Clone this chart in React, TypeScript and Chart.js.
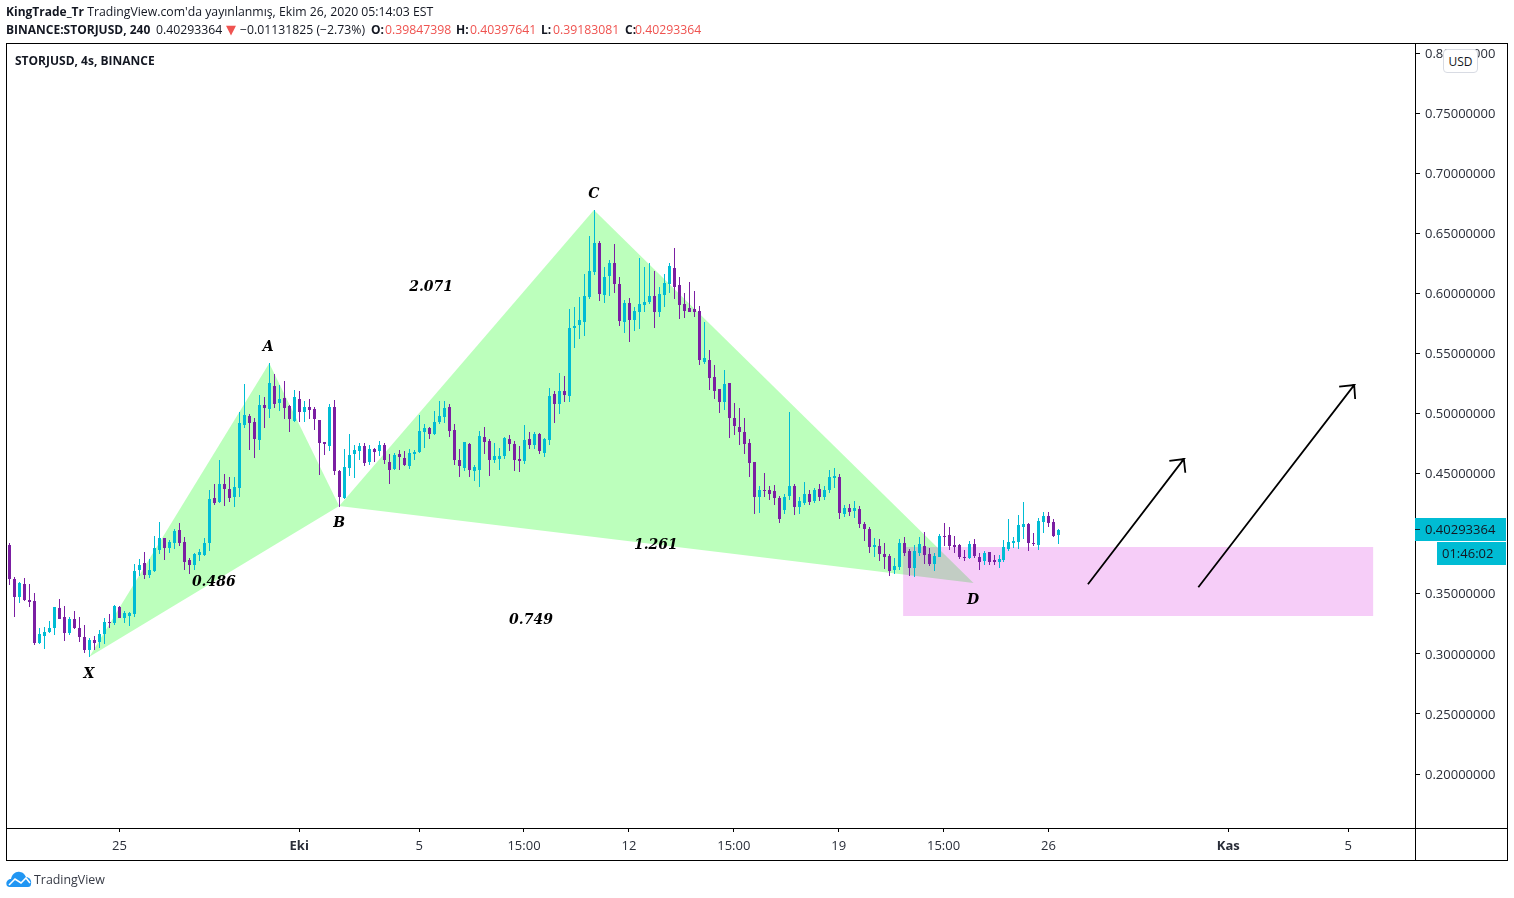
import React, { useEffect, useRef } from "react";
import { Chart, registerables } from "chart.js";

Chart.register(...registerables);

const highs = [
.3926,.3638,.3599,.3632,.3582,.3505,.3213,.3222,.3274,.3391,
.3455,.3399,.3305,.3358,.3308,.3241,.3130,.3150,.3200,.3297,
.3333,.3405,.3399,.3358,.3349,.3749,.3790,.3848,.3790,.3981,
.4098,.3965,.3948,.4040,.4090,.3976,.3796,.3837,.3873,.3965,
.4364,.4414,.4614,.4497,.4472,.4472,.5013,.5246,.4996,.4963,
.5154,.5138,.5418,.5329,.5238,.5271,.5072,.5197,.5188,.5105,
.5122,.5055,.4947,.4764,.5080,.5113,.4531,.4706,.4831,.4739,
.4756,.4756,.4739,.4714,.4772,.4756,.4664,.4673,.4697,.4689,
.4706,.4697,.4989,.4914,.4889,.5022,.5105,.5105,.5080,.4914,
.4706,.4764,.4756,.4573,.4856,.4889,.4789,.4756,.4714,.4806,
.4822,.4772,.4731,.4905,.4847,.4847,.4839,.4797,.5213,.5188,
.5338,.5313,.5870,.5887,.5970,.6161,.6477,.6694,.6436,.6220,
.6278,.6411,.6136,.5945,.5962,.5887,.6294,.6220,.6253,.6186,
.6053,.6161,.6253,.6378,.6136,.6003,.6095,.6020,.5895,.5762,
.5529,.5404,.5205,.5363,.5255,.5088,.5047,.4963,.4789,.4597,
.4398,.4506,.4398,.4406,.4314,.4331,.5013,.4414,.4306,.4431,
.4364,.4381,.4414,.4398,.4531,.4547,.4497,.4240,.4248,.4273,
.4231,.4098,.4056,.3965,.3957,.3923,.3832,.3799,.3957,.3973,
.3873,.3907,.3973,.4015,.3882,.3840,.3998,.4090,.4056,.3982,
.3915,.3865,.3940,.3957,.3840,.3857,.3848,.3824,.3824,.3948,
.4123,.3973,.4156,.4264,.4090,.4007,.4131,.4181,.4181,.4123,.4040];

const bodyTops = [
.3907,.3624,.3590,.3582,.3449,.3441,.3166,.3183,.3216,.3391,
.3383,.3310,.3291,.3291,.3216,.3141,.3116,.3116,.3166,.3266,
.3266,.3399,.3391,.3341,.3341,.3690,.3740,.3757,.3699,.3882,
.3965,.3965,.3932,.4023,.4031,.3932,.3782,.3832,.3848,.3923,
.4289,.4298,.4414,.4414,.4372,.4389,.4922,.4988,.4980,.4930,
.5071,.5071,.5254,.5229,.5121,.5130,.5063,.5138,.5122,.5055,
.5055,.5039,.4947,.4764,.5055,.5055,.4523,.4556,.4656,.4697,
.4731,.4731,.4706,.4706,.4739,.4739,.4598,.4656,.4664,.4631,
.4673,.4681,.4856,.4881,.4881,.4930,.4980,.5047,.5055,.4864,
.4614,.4764,.4747,.4556,.4814,.4806,.4772,.4648,.4648,.4797,
.4789,.4747,.4623,.4781,.4789,.4831,.4831,.4789,.5146,.5163,
.5188,.5188,.5712,.5729,.5779,.5978,.6186,.6419,.6419,.6136,
.6253,.6253,.6078,.5920,.5920,.5854,.5912,.5928,.5978,.5978,
.5995,.6087,.6228,.6211,.6070,.5912,.5879,.5870,.5854,.5463,
.5446,.5305,.5205,.5246,.5255,.4963,.4889,.4847,.4755,.4597,
.4365,.4365,.4365,.4356,.4298,.4306,.4398,.4398,.4273,.4331,
.4331,.4364,.4373,.4364,.4472,.4481,.4472,.4215,.4215,.4215,
.4206,.4081,.4040,.3907,.3898,.3832,.3815,.3732,.3923,.3923,
.3857,.3857,.3915,.3898,.3832,.3815,.3982,.3982,.3990,.3907,
.3907,.3807,.3915,.3915,.3807,.3840,.3848,.3782,.3790,.3890,
.3932,.3940,.4073,.4081,.4081,.3923,.4106,.4148,.4148,.4098,.4029];

const bodyBottoms = [
.3627,.3477,.3477,.3449,.3432,.3094,.3094,.3150,.3183,.3211,
.3294,.3177,.3174,.3211,.3144,.3028,.3028,.3094,.3102,.3166,
.3258,.3255,.3302,.3299,.3316,.3333,.3699,.3657,.3657,.3690,
.3865,.3882,.3882,.3923,.3923,.3765,.3740,.3740,.3823,.3823,
.3923,.4256,.4264,.4372,.4298,.4306,.4381,.4905,.4922,.4788,
.4780,.5046,.5038,.5080,.5088,.5047,.4955,.4939,.5014,.5014,
.5030,.4955,.4756,.4747,.4731,.4523,.4306,.4298,.4548,.4664,
.4689,.4589,.4598,.4681,.4689,.4614,.4531,.4539,.4639,.4573,
.4564,.4664,.4681,.4847,.4831,.4831,.4930,.4972,.4856,.4614,
.4564,.4548,.4531,.4523,.4531,.4764,.4614,.4614,.4623,.4648,
.4747,.4614,.4606,.4606,.4739,.4739,.4689,.4673,.4780,.5080,
.5080,.5155,.5146,.5712,.5737,.5762,.5970,.6178,.5995,.5987,
.6145,.6078,.5770,.5762,.5779,.5779,.5845,.5904,.5928,.5845,
.5845,.5987,.6078,.6053,.5904,.5854,.5845,.5845,.5446,.5429,
.5296,.5188,.5097,.5097,.4963,.4897,.4847,.4747,.4589,.4306,
.4306,.4356,.4331,.4298,.4123,.4198,.4314,.4223,.4223,.4256,
.4264,.4273,.4306,.4306,.4364,.4464,.4173,.4165,.4181,.4190,
.4081,.4040,.3890,.3890,.3832,.3807,.3690,.3699,.3724,.3840,
.3715,.3715,.3840,.3824,.3749,.3749,.3807,.3973,.3898,.3890,
.3807,.3799,.3799,.3815,.3765,.3774,.3765,.3765,.3765,.3782,
.3873,.3923,.3932,.4056,.3923,.3915,.3907,.4098,.4090,.3982,.3985];

const lows = [
.3574,.3310,.3427,.3441,.3394,.3077,.3083,.3044,.3172,.3158,
.3288,.3111,.3161,.3205,.3102,.3005,.2972,.3033,.3052,.3083,
.3211,.3241,.3297,.3260,.3233,.3310,.3649,.3627,.3629,.3682,
.3834,.3782,.3840,.3873,.3898,.3699,.3665,.3699,.3773,.3815,
.3857,.4239,.4253,.4231,.4264,.4223,.4306,.4880,.4697,.4630,
.4697,.4880,.4963,.5046,.5021,.4955,.4847,.4930,.4930,.4930,
.4955,.4864,.4489,.4656,.4689,.4489,.4223,.4290,.4481,.4465,
.4614,.4564,.4573,.4598,.4648,.4581,.4415,.4531,.4531,.4564,
.4539,.4614,.4673,.4714,.4789,.4822,.4914,.4922,.4806,.4573,
.4473,.4523,.4473,.4440,.4390,.4664,.4481,.4589,.4531,.4623,
.4689,.4523,.4514,.4581,.4706,.4706,.4664,.4639,.4739,.4922,
.4997,.5097,.5097,.5546,.5621,.5646,.5953,.6153,.5937,.5920,
.5978,.6003,.5729,.5671,.5596,.5687,.5704,.5845,.5912,.5712,
.5804,.5887,.6003,.5953,.5787,.5795,.5845,.5804,.5404,.5413,
.5196,.5122,.5005,.5030,.4797,.4822,.4739,.4664,.4473,.4165,
.4173,.4306,.4281,.4240,.4090,.4165,.4281,.4156,.4165,.4240,
.4240,.4256,.4273,.4281,.4339,.4381,.4123,.4140,.4148,.4131,
.4048,.3940,.3840,.3807,.3774,.3707,.3649,.3665,.3699,.3815,
.3649,.3641,.3815,.3749,.3732,.3690,.3807,.3898,.3865,.3840,
.3790,.3774,.3790,.3799,.3699,.3740,.3740,.3740,.3715,.3765,
.3857,.3882,.3873,.3957,.3857,.3898,.3865,.4007,.4056,.3973,.3918];

const directions =
  "DDUDDDUUUU" + "DDUDDDUDUU" + "DUDUUUUDUU" + "UDUUDDDUUU" + "UDUDDUUUDD" +
  "UDUDUDDUDU" + "DDDDUDDUUU" + "UDUDUDDUDD" + "UUUUDUUUDD" + "DUDUUDDUUU" +
  "DDDUDUDUUD" + "UDUUUUUUDU" + "UDDUDUUUUD" + "UUUDDDDDDU" + "DDDUDDDDDD" +
  "UDDDDUUDUU" + "DUDUUUDUDU" + "DDDUDDDUUD" + "DUUDDUUDDD" + "DDUDDUDDUU" +
  "UUUUDDUUDDU";

const xTickIndices = [22, 58, 82, 103, 124, 145, 166, 187, 208, 244, 268];
const xTickLabels = ["25", "Eki", "5", "15:00", "12", "15:00", "19", "15:00", "26", "Kas", "5"];
const xTickBold = ["Eki", "Kas"];
const priceTicks = [0.2, 0.25, 0.3, 0.35, 0.4, 0.45, 0.5, 0.55, 0.6, 0.65, 0.7, 0.75, 0.8];

const xabIndex = [16, 52, 66, 16];
const xabPrice = [0.2976, 0.5418, 0.423, 0.2976];
const bcdIndex = [66, 117, 193, 66];
const bcdPrice = [0.423, 0.6694, 0.359, 0.423];
const zoneIndex = [178.9, 273, 273, 178.9, 178.9];
const zonePrice = [0.3889, 0.3889, 0.3315, 0.3315, 0.3889];
const arrowOneIndex = [215.9, 235.1, 232.2, 235.1, 235.4];
const arrowOnePrice = [0.3579, 0.4621, 0.4605, 0.4621, 0.4507];
const arrowTwoIndex = [238.0, 269.2, 266.2, 269.2, 269.4];
const arrowTwoPrice = [0.3554, 0.5237, 0.5223, 0.5237, 0.5121];

const labelTexts = ["X", "A", "B", "C", "D", "2.071", "0.486", "1.261", "0.749"];
const labelIndex = [15.9, 51.8, 66, 117, 192.9, 84.4, 40.9, 129.4, 104.4];
const labelPrice = [0.2833, 0.5554, 0.4089, 0.6827, 0.3448, 0.6053, 0.3598, 0.3906, 0.3282];

const lastPrice = 0.40293364;
const lastPriceText = "0.40293364";
const countdownText = "01:46:02";

const UP = "#00bcd4";
const DOWN = "#7b1fa2";
const UI_FONT = '"Open Sans", sans-serif';
const pairs = (xs: number[], ys: number[]) => xs.map((x, i) => ({ x, y: ys[i] }));

const snapBars = {
  id: "snapBars",
  beforeDatasetsDraw(chart: any) {
    chart.data.datasets.forEach((ds: any, di: number) => {
      if (ds.type !== "bar") return;
      chart.getDatasetMeta(di).data.forEach((el: any) => {
        el.x = Math.floor(el.x + 0.49) + 0.5;
        el.width = ds.maxBarThickness;
        const y = Math.round(el.y);
        let b = Math.round(el.base);
        if (b === y) b = y + 1;
        el.y = y;
        el.base = b;
      });
    });
  },
};

const patternLabels = {
  id: "patternLabels",
  afterDatasetsDraw(chart: any) {
    const { ctx, scales } = chart;
    ctx.save();
    ctx.fillStyle = "#000";
    ctx.font = 'italic bold 14px "DejaVu Serif"';
    ctx.textAlign = "center";
    ctx.textBaseline = "middle";
    labelTexts.forEach((t, i) => {
      ctx.fillText(t, scales.x.getPixelForValue(labelIndex[i]), scales.y.getPixelForValue(labelPrice[i]));
    });
    ctx.restore();
  },
};

const framePlugin = {
  id: "framePlugin",
  afterDraw(chart: any) {
    const { ctx, scales } = chart;
    ctx.save();
    ctx.fillStyle = "#000";
    ctx.fillRect(6, 43, 1502, 1);
    ctx.fillRect(6, 860, 1502, 1);
    ctx.fillRect(6, 43, 1, 818);
    ctx.fillRect(1507, 43, 1, 818);
    ctx.fillRect(1415, 43, 1, 818);
    ctx.fillRect(6, 828, 1502, 1);
    const py = Math.round(scales.y.getPixelForValue(lastPrice));
    ctx.fillStyle = UP;
    ctx.fillRect(1415, py - 12, 91, 23);
    ctx.fillRect(1437, py + 12, 69, 23);
    ctx.fillStyle = "#131722";
    ctx.fillRect(1415, py - 1, 5, 1);
    ctx.font = `13px ${UI_FONT}`;
    ctx.textBaseline = "middle";
    ctx.fillText(lastPriceText, 1425, py);
    ctx.fillText(countdownText, 1442, py + 24);
    ctx.restore();
  },
};

const abs = (left: number, top: number, extra: React.CSSProperties = {}): React.CSSProperties => ({
  position: "absolute",
  left,
  top,
  whiteSpace: "nowrap",
  lineHeight: "16px",
  ...extra,
});

export default function App() {
  const ref = useRef<HTMLCanvasElement>(null);
  useEffect(() => {
    const polygon = (xs: number[], ys: number[], color: string, order: number) => ({
      type: "line",
      data: pairs(xs, ys),
      fill: "shape",
      backgroundColor: color,
      borderWidth: 0,
      pointRadius: 0,
      tension: 0,
      order,
    });
    const arrow = (xs: number[], ys: number[]) => ({
      type: "line",
      data: pairs(xs, ys),
      fill: false,
      borderColor: "#000",
      borderWidth: 1.8,
      pointRadius: 0,
      tension: 0,
      order: 0,
    });
    const colors = highs.map((_, i) => (directions[i] === "U" ? UP : DOWN));
    const chart = new Chart(ref.current as HTMLCanvasElement, {
      data: {
        datasets: [
          polygon(xabIndex, xabPrice, "#bcffbc", 5),
          polygon(bcdIndex, bcdPrice, "#bcffbc", 5),
          polygon(zoneIndex, zonePrice, "rgba(215,32,224,0.224)", 4),
          {
            type: "bar",
            data: highs.map((h, i) => ({ x: i, y: [lows[i], h] })),
            backgroundColor: colors,
            grouped: false,
            maxBarThickness: 1,
            borderWidth: 0,
            order: 3,
          },
          {
            type: "bar",
            data: bodyTops.map((t, i) => ({ x: i, y: [bodyBottoms[i], t] })),
            backgroundColor: colors,
            grouped: false,
            maxBarThickness: 3,
            borderWidth: 0,
            order: 2,
          },
          arrow(arrowOneIndex, arrowOnePrice),
          arrow(arrowTwoIndex, arrowTwoPrice),
        ],
      } as any,
      options: {
        responsive: false,
        animation: false,
        events: [],
        layout: { padding: { left: 7, right: 7, top: 44, bottom: 38 } },
        plugins: { legend: { display: false }, tooltip: { enabled: false }, title: { display: false } },
        scales: {
          x: {
            type: "linear",
            offset: false,
            min: -0.5005,
            max: 281.38,
            afterFit: (s: any) => { s.height = 32; },
            afterBuildTicks: (s: any) => { s.ticks = xTickIndices.map((value) => ({ value })); },
            border: { display: false },
            grid: { offset: false, drawOnChartArea: false, color: "#000", tickColor: "#000", tickLength: 4, tickWidth: 1 },
            ticks: {
              autoSkip: false,
              maxRotation: 0,
              padding: 6,
              color: "#2a2e39",
              font: (c: any) => ({
                family: UI_FONT,
                size: 13,
                weight: xTickBold.includes(xTickLabels[xTickIndices.indexOf(c.tick?.value)]) ? "bold" : "normal",
              }),
              callback: (v: any) => xTickLabels[xTickIndices.indexOf(v)],
            },
          },
          y: {
            type: "linear",
            position: "right",
            min: 0.15508,
            max: 0.80749,
            afterFit: (s: any) => { s.width = 92; },
            afterBuildTicks: (s: any) => { s.ticks = priceTicks.map((value) => ({ value })); },
            border: { display: false },
            grid: { drawOnChartArea: false, color: "#000", tickColor: "#000", tickLength: 5, tickWidth: 1 },
            ticks: {
              autoSkip: false,
              padding: 5,
              labelOffset: 1,
              color: "#2a2e39",
              font: { family: UI_FONT, size: 13 },
              callback: (v: any) => Number(v).toFixed(8),
            },
          },
        },
      } as any,
      plugins: [snapBars, patternLabels, framePlugin],
    } as any);
    return () => chart.destroy();
  }, []);

  const red = "#ef5350";
  const dark = "#131722";
  const base: React.CSSProperties = { fontFamily: UI_FONT, fontSize: 12.25, color: dark };
  const boldStyle = (left: number, top: number) => abs(left, top, { fontSize: 12, fontWeight: "bold" });
  return (
    <div style={{ position: "fixed", left: 0, top: 0, width: 1514, height: 898, background: "#fff", overflow: "hidden", ...base }}>
      <canvas ref={ref} width={1514} height={898} style={{ position: "absolute", left: 0, top: 0, display: "block" }} />
      <div style={abs(6, 4)}><b style={{ fontSize: 12 }}>KingTrade_Tr</b> TradingView.com'da yayınlanmış, Ekim 26, 2020 05:14:03 EST</div>
      <span style={boldStyle(6, 22)}>BINANCE:STORJUSD, 240</span>
      <span style={abs(156, 22)}>0.40293364</span>
      <span style={abs(226, 22, { color: red, fontSize: 13, fontFamily: '"DejaVu Sans"' })}>▼</span>
      <span style={abs(240, 22)}>−0.01131825 (−2.73%)</span>
      <span style={boldStyle(371, 22)}>O:</span>
      <span style={abs(385, 22, { color: red })}>0.39847398</span>
      <span style={boldStyle(456, 22)}>H:</span>
      <span style={abs(470, 22, { color: red })}>0.40397641</span>
      <span style={boldStyle(541, 22)}>L:</span>
      <span style={abs(553, 22, { color: red })}>0.39183081</span>
      <span style={boldStyle(625, 22)}>C:</span>
      <span style={abs(635, 22, { color: red })}>0.40293364</span>
      <span style={boldStyle(15, 53)}>STORJUSD, 4s, BINANCE</span>
      <div style={{ position: "absolute", left: 1443, top: 49, width: 35, height: 24, boxSizing: "border-box", background: "#fff", border: "1px solid #d8dbe3", borderRadius: 4, textAlign: "center", lineHeight: "24px", fontSize: 12 }}>USD</div>
      <svg style={{ position: "absolute", left: 6, top: 871 }} width={26} height={17} viewBox="0 0 26 17">
        <path d="M1 15 C-1 11 2 8 5 8 C6 3 10 0 14 1 C17 1 19 4 20 6 C23 6 26 9 25 13 C25 15 24 16 22 16 L3 16 Z" fill="#2196f3" />
        <polyline points="3,14 9,8 15,12 20,7 24,12" fill="none" stroke="#fff" strokeWidth={1.6} />
      </svg>
      <span style={abs(34, 872, { color: "#363a45", fontSize: 12.4 })}>TradingView</span>
    </div>
  );
}
